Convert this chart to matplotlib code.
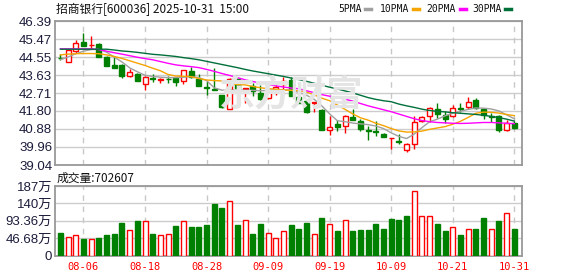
import matplotlib
matplotlib.use('Agg')
import matplotlib.pyplot as plt
from matplotlib.lines import Line2D

# ---- data ----
dates = ['08-06', '08-18', '08-28', '09-09', '09-19', '10-09', '10-21', '10-31']
date_idx = [3, 11, 19, 27, 35, 43, 51, 59]

opens = [44.50, 44.32, 44.86, 45.32, 45.15, 45.22, 44.54, 44.13, 44.15, 43.56,
         43.69, 43.17, 43.48, 43.37, 43.45, 43.47, 43.35, 43.86, 43.42, 43.01,
         42.93, 42.62, 41.89, 43.42, 42.94, 43.05, 42.74, 42.45, 42.84, 43.17,
         43.39, 42.49, 42.32, 42.22, 41.83, 40.84, 41.15, 41.01, 41.50, 41.30,
         40.81, 40.76, 40.64, 40.41, 40.25, 39.82, 40.11, 41.27, 41.52, 41.89,
         41.57, 41.52, 41.93, 41.99, 42.37, 41.91, 41.52, 41.55, 40.84, 41.18]
highs = [44.70, 44.93, 45.42, 45.76, 45.63, 45.29, 44.61, 44.54, 44.18, 43.95,
         43.72, 43.59, 43.67, 43.47, 43.56, 43.50, 43.91, 44.06, 43.69, 43.34,
         43.98, 42.62, 43.46, 43.47, 42.98, 43.22, 43.10, 42.85, 43.18, 43.52,
         43.52, 42.67, 42.40, 42.25, 41.89, 41.52, 41.35, 41.57, 41.89, 41.38,
         41.01, 41.30, 40.66, 40.44, 40.62, 40.16, 41.52, 41.55, 41.99, 42.20,
         41.82, 42.11, 42.20, 42.50, 42.45, 41.95, 41.69, 41.60, 41.35, 41.27]
lows = [44.42, 44.30, 44.74, 45.10, 44.95, 44.57, 44.10, 44.01, 43.50, 43.52,
        43.35, 42.88, 43.30, 43.22, 43.25, 43.05, 43.17, 43.50, 43.05, 42.62,
        42.89, 41.94, 41.89, 42.74, 42.20, 42.57, 42.37, 42.42, 42.61, 42.83,
        42.57, 42.20, 41.69, 41.74, 40.81, 40.55, 40.76, 40.67, 41.32, 40.79,
        40.30, 40.50, 40.45, 39.86, 40.13, 39.69, 39.86, 41.24, 41.24, 41.45,
        41.18, 41.50, 41.77, 41.89, 41.92, 41.38, 41.26, 40.70, 40.76, 40.86]
closes = [44.48, 44.91, 45.25, 45.13, 45.17, 44.57, 44.10, 44.01, 43.56, 43.78,
          43.35, 43.52, 43.45, 43.45, 43.42, 43.30, 43.88, 43.52, 43.05, 42.98,
          42.89, 41.98, 43.42, 42.96, 42.96, 42.83, 42.42, 42.83, 43.01, 43.32,
          42.57, 42.23, 41.74, 42.24, 40.84, 40.98, 40.96, 41.52, 41.32, 40.87,
          40.77, 40.73, 40.45, 40.43, 40.22, 40.13, 41.23, 41.47, 41.94, 41.64,
          41.40, 41.94, 41.89, 42.25, 41.94, 41.60, 41.48, 40.84, 41.18, 40.91]

ma5 = [44.42, 44.55, 44.72, 44.85, 44.93, 44.95, 44.80, 44.55, 44.30, 44.00,
       43.80, 43.62, 43.56, 43.52, 43.50, 43.50, 43.52, 43.55, 43.50, 43.35,
       42.98, 42.86, 42.86, 42.86, 42.86, 42.85, 42.83, 42.85, 42.90, 42.88,
       42.86, 42.75, 42.60, 42.39, 42.05, 41.65, 41.30, 41.25, 41.18, 41.14,
       41.10, 41.03, 40.90, 40.68, 40.50, 40.39, 40.62, 40.95, 41.25, 41.38,
       41.55, 41.68, 41.78, 41.88, 41.95, 41.94, 41.90, 41.80, 41.60, 41.40]
ma10 = [44.66, 44.70, 44.72, 44.73, 44.73, 44.72, 44.66, 44.58, 44.48, 44.36,
        44.24, 44.12, 43.98, 43.85, 43.66, 43.58, 43.57, 43.55, 43.45, 43.38,
        43.35, 43.33, 43.20, 43.14, 43.13, 43.05, 42.98, 42.94, 42.90, 42.87,
        42.85, 42.83, 42.76, 42.62, 42.45, 42.32, 42.10, 41.88, 41.65, 41.45,
        41.33, 41.17, 41.05, 40.90, 40.78, 40.72, 40.73, 40.77, 40.86, 40.93,
        41.00, 41.12, 41.27, 41.47, 41.68, 41.74, 41.73, 41.69, 41.62, 41.56]
ma20 = [44.97, 44.97, 44.97, 44.97, 44.97, 44.93, 44.85, 44.77, 44.70, 44.62,
        44.54, 44.47, 44.41, 44.32, 44.23, 44.15, 44.10, 44.06, 44.01, 43.92,
        43.82, 43.71, 43.61, 43.50, 43.39, 43.30, 43.22, 43.15, 43.08, 43.02,
        42.97, 42.93, 42.83, 42.73, 42.63, 42.55, 42.48, 42.40, 42.30, 42.18,
        42.06, 41.96, 41.86, 41.76, 41.64, 41.52, 41.40, 41.31, 41.25, 41.21,
        41.19, 41.17, 41.16, 41.17, 41.19, 41.21, 41.21, 41.19, 41.17, 41.15]
ma30 = [44.95, 44.95, 44.95, 44.95, 44.95, 44.95, 44.95, 44.91, 44.86, 44.83,
        44.79, 44.74, 44.69, 44.66, 44.62, 44.58, 44.52, 44.47, 44.41, 44.33,
        44.25, 44.17, 44.09, 44.01, 43.92, 43.84, 43.77, 43.70, 43.63, 43.56,
        43.48, 43.40, 43.31, 43.21, 43.11, 43.01, 42.92, 42.82, 42.72, 42.60,
        42.48, 42.39, 42.32, 42.27, 42.15, 42.06, 41.98, 41.89, 41.82, 41.78,
        41.75, 41.71, 41.68, 41.65, 41.62, 41.58, 41.52, 41.46, 41.38, 41.28]

# volume in 万 (10k hands)
volume = [60.1, 49.4, 53.9, 44.0, 44.0, 46.7, 54.8, 57.5, 87.1, 68.2,
          92.5, 92.5, 57.5, 53.9, 56.6, 79.0, 92.5, 76.3, 76.3, 81.7,
          138.2, 127.5, 146.3, 81.7, 95.2, 57.5, 84.4, 59.2, 46.7, 65.5,
          81.7, 70.9, 87.1, 57.5, 100.5, 84.4, 65.5, 95.2, 65.5, 68.2,
          68.2, 84.4, 70.9, 97.9, 95.2, 105.9, 172.4, 105.9, 105.9, 84.4,
          65.5, 76.3, 54.8, 70.9, 70.9, 100.5, 70.9, 93.4, 114.0, 70.2607]
vol_color = 'GRRGRGGGGR' 'GRGRRGRGGG' 'GGRGRGGRRR' 'GGGRGRGRGG' 'GGGGGGRRRG' 'GRGRGGRGRG'

price_ticks = [39.04, 39.96, 40.88, 41.80, 42.71, 43.63, 44.55, 45.47, 46.39]
vol_ticks = [0, 46.68, 93.36, 140.04, 186.72]
vol_labels = ['0', '46.68万', '93.36万', '140万', '187万']

RED = '#ff0000'
GREEN = '#008000'
ma_colors = ['#a0a0a0', '#f5a400', '#ff00ff', '#00703a']
ma_names = ['5PMA', '10PMA', '20PMA', '30PMA']

W, H = 578, 276
fig = plt.figure(figsize=(W / 100, H / 100), dpi=100)

def fx(x):
    return x / W

def fy(y):
    return 1 - y / H

ax = fig.add_axes([fx(55), fy(165), fx(522) - fx(55), fy(21) - fy(165)])
axv = fig.add_axes([fx(55), fy(255.5), fx(522) - fx(55), fy(186) - fy(255.5)])

tick_font = ['Liberation Sans Narrow', 'Liberation Sans', 'Noto Sans CJK SC']
cjk = ['Noto Sans CJK SC', 'DejaVu Sans']

# candles
for i in range(len(closes)):
    up = closes[i] >= opens[i]
    col = RED if up else GREEN
    top = max(opens[i], closes[i])
    bot = min(opens[i], closes[i])
    ax.vlines(i, top, highs[i], color=col, lw=1, zorder=2)
    ax.vlines(i, lows[i], bot, color=col, lw=1, zorder=2)
    ax.bar(i, max(top - bot, 0.004), bottom=bot, width=0.65,
           facecolor='white' if up else GREEN, edgecolor=col, lw=1, zorder=3)

for m, c in zip([ma5, ma10, ma20, ma30], ma_colors):
    ax.plot(range(len(m)), m, color=c, lw=1, zorder=4)

# volume bars
for i, v in enumerate(volume):
    if vol_color[i] == 'R':
        axv.bar(i, v, width=0.65, facecolor='white', edgecolor=RED, lw=1, zorder=3)
    else:
        axv.bar(i, v, width=0.65, facecolor=GREEN, edgecolor=GREEN, lw=1, zorder=3)

for a in (ax, axv):
    a.set_xlim(-0.7, 60)
    for d in date_idx:
        a.axvline(d, color='#c8c8c8', lw=1, ls=(0, (4, 4)), zorder=1)
    a.yaxis.grid(True, color='#cccccc', lw=1, zorder=0)
    a.set_axisbelow(True)
    for s in a.spines.values():
        s.set_color('#999999')
        s.set_linewidth(1.3)
    a.tick_params(axis='y', length=0, pad=2, colors='#1c1c3c')

ax.set_ylim(price_ticks[0], price_ticks[-1])
ax.set_yticks(price_ticks)
ax.set_yticklabels(['%.2f' % t for t in price_ticks], family=tick_font, fontsize=9.5)
ax.set_xticks([])

axv.set_ylim(0, vol_ticks[-1])
axv.set_yticks(vol_ticks)
axv.set_yticklabels(vol_labels, family=tick_font, fontsize=9.5)
axv.set_xticks(date_idx)
axv.set_xticklabels(dates, family='DejaVu Sans Mono', fontsize=7.5, color=RED)
axv.tick_params(axis='x', length=0, pad=5)

# watermark
fig.text(fx(291), fy(95), '东方财富', ha='center', va='center', fontsize=26,
         color='#e4e4e4', family=cjk, weight='bold', zorder=0.5)

# header texts
fig.text(fx(56), fy(9), '招商银行[600036] 2025-10-31  15:00', ha='left', va='center',
         fontsize=8.5, family=cjk, color='#111111')
fig.text(fx(57), fy(178), '成交量:702607', ha='left', va='center',
         fontsize=8.5, family=cjk, color='#111111')

# legend: label then colour swatch
leg_x = [338, 380, 426, 472]
sw_x = [365, 413, 460, 505]
for name, c, lx, sx in zip(ma_names, ma_colors, leg_x, sw_x):
    fig.text(fx(lx), fy(9), name, ha='left', va='center', fontsize=7,
             family='DejaVu Sans Mono', color='#111111')
    fig.add_artist(Line2D([fx(sx), fx(sx + 6)], [fy(9), fy(9)], color=c, lw=2.5,
                          transform=fig.transFigure))

fig.savefig('out.png', dpi=100)
